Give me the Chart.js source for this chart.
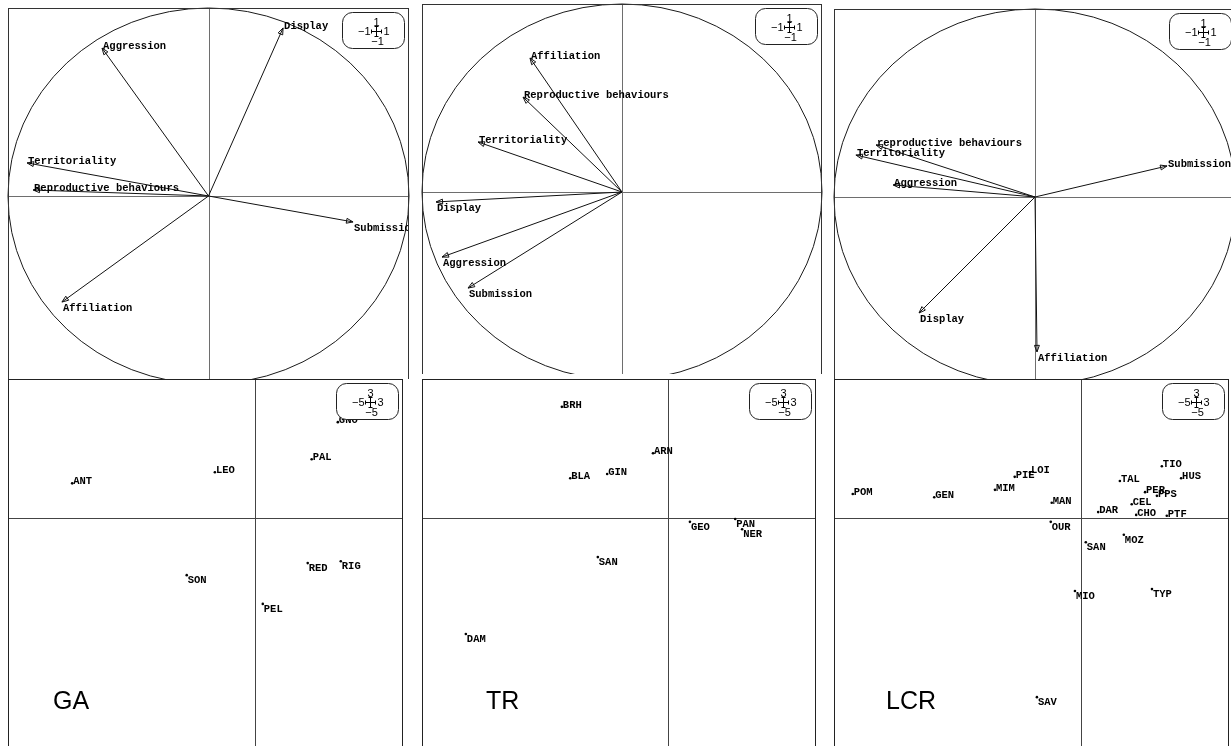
<!DOCTYPE html>
<html>
<head>
<meta charset="utf-8">
<script src="https://cdn.jsdelivr.net/npm/chart.js@4/dist/chart.umd.min.js"></script>
<style>
  html, body { margin: 0; padding: 0; background: #fff; }
  body { position: relative; width: 1231px; height: 746px; overflow: hidden; }
</style>
</head>
<body>
<script>
// ---- Correlation circles: behaviour loadings on axes 1 and 2 ----
const gaBehaviours = ['Aggression', 'Display', 'Territoriality', 'Reproductive behaviours', 'Submission', 'Affiliation'];
const gaAxis1 = [-0.531, 0.372, -0.905, -0.875, 0.721, -0.731];
const gaAxis2 = [0.787, 0.894, 0.176, 0.032, -0.138, -0.564];

const trBehaviours = ['Affiliation', 'Reproductive behaviours', 'Territoriality', 'Display', 'Aggression', 'Submission'];
const trAxis1 = [-0.46, -0.495, -0.72, -0.93, -0.90, -0.77];
const trAxis2 = [0.713, 0.505, 0.266, -0.053, -0.346, -0.511];

const lcrBehaviours = ['reproductive behaviours', 'Territoriality', 'Aggression', 'Submission', 'Display', 'Affiliation'];
const lcrAxis1 = [-0.791, -0.891, -0.706, 0.657, -0.577, 0.01];
const lcrAxis2 = [0.277, 0.223, 0.064, 0.165, -0.617, -0.824];

// ---- Site scores on axes 1 and 2 ----
const gaSites = ['GNO', 'PAL', 'LEO', 'ANT', 'SON', 'RED', 'RIG', 'PEL'];
const gaX = [1.68, 1.15, -0.81, -3.70, -1.38, 1.07, 1.74, 0.16];
const gaY = [2.07, 1.27, 0.99, 0.75, -1.23, -0.97, -0.93, -1.85];

const trSites = ['BRH', 'ARN', 'BLA', 'GIN', 'GEO', 'PAN', 'NER', 'SAN', 'DAM'];
const trX = [-2.16, -0.31, -1.99, -1.24, 0.44, 1.36, 1.50, -1.43, -4.11];
const trY = [2.40, 1.40, 0.86, 0.95, -0.08, -0.02, -0.24, -0.84, -2.50];

const lcrSites = ['POM', 'GEN', 'MIM', 'PIE', 'LOI', 'MAN', 'OUR', 'DAR', 'TAL', 'TIO', 'HUS',
                  'PER', 'PPS', 'CEL', 'CHO', 'PTF', 'MOZ', 'SAN', 'MIO', 'TYP', 'SAV'];
const lcrX = [-4.62, -2.97, -1.74, -1.34, -1.03, -0.59, -0.61, 0.35, 0.79, 1.64, 2.03,
              1.30, 1.54, 1.03, 1.12, 1.74, 0.87, 0.10, -0.12, 1.44, -0.89];
const lcrY = [0.52, 0.45, 0.61, 0.89, 0.99, 0.33, -0.08, 0.13, 0.80, 1.12, 0.86,
              0.56, 0.48, 0.30, 0.07, 0.05, -0.36, -0.52, -1.57, -1.53, -3.86];

// ---- Axis limits (also printed in the small scale box) ----
const circleLimits = [-1, 1];
const siteLimits = [-5, 3];

const MONO = 'bold 10.5px "Liberation Mono", "DejaVu Sans Mono", monospace';
const SANS = '"Liberation Sans", Arial, sans-serif';

const fmt = v => String(v).replace('-', '\u2212');

const decor = {
  id: 'decor',
  beforeDraw(chart, args, o) {
    if (!o.background) return;
    const { ctx, width, height } = chart;
    ctx.save();
    ctx.fillStyle = '#fff';
    ctx.fillRect(0, 0, width, height);
    ctx.restore();
  },
  beforeDatasetsDraw(chart, args, o) {
    const { ctx, chartArea: a, scales: { x, y } } = chart;
    const px = Math.round(x.getPixelForValue(0)) + 0.5;
    const py = Math.round(y.getPixelForValue(0)) + 0.5;
    ctx.save();
    ctx.beginPath();
    ctx.rect(a.left - 1, a.top - 1, a.right - a.left + 2, a.bottom - a.top + 2);
    ctx.clip();
    ctx.lineWidth = 1;
    ctx.strokeStyle = o.axisColor;
    ctx.beginPath();
    ctx.moveTo(a.left, py); ctx.lineTo(a.right, py);
    ctx.moveTo(px, a.top); ctx.lineTo(px, a.bottom);
    ctx.stroke();
    if (o.circle) {
      const cx = x.getPixelForValue(0), cy = y.getPixelForValue(0);
      const rx = x.getPixelForValue(1) - cx, ry = cy - y.getPixelForValue(1);
      ctx.strokeStyle = '#1a1a1a';
      ctx.beginPath();
      ctx.ellipse(cx, cy, rx, ry, 0, 0, Math.PI * 2);
      ctx.stroke();
    }
    ctx.restore();
  },
  afterDatasetsDraw(chart, args, o) {
    const { ctx, chartArea: a, scales: { x, y } } = chart;
    ctx.save();
    ctx.beginPath();
    ctx.rect(a.left, a.top - 1, a.right - a.left, a.bottom - a.top + 2);
    ctx.clip();
    ctx.fillStyle = '#000';
    ctx.strokeStyle = '#111';
    ctx.lineWidth = 1;
    ctx.font = MONO;
    ctx.textAlign = 'left';
    ctx.textBaseline = 'alphabetic';

    if (o.arrows) {
      chart.data.datasets.forEach((ds, i) => {
        const pts = chart.getDatasetMeta(i).data;
        const p0 = pts[0], p1 = pts[1];
        const ang = Math.atan2(p1.y - p0.y, p1.x - p0.x);
        const L = 7, phi = 0.36;
        ctx.beginPath();
        ctx.moveTo(p1.x, p1.y);
        ctx.lineTo(p1.x - L * Math.cos(ang - phi), p1.y - L * Math.sin(ang - phi));
        ctx.lineTo(p1.x - L * Math.cos(ang + phi), p1.y - L * Math.sin(ang + phi));
        ctx.closePath();
        ctx.stroke();
        const up = ds.data[1].y >= 0;
        ctx.fillText(ds.label, p1.x + 1, up ? p1.y + 1 : p1.y + 9);
      });
    } else {
      const ds = chart.data.datasets[0];
      const pts = chart.getDatasetMeta(0).data;
      ds.names.forEach((name, j) => {
        const el = pts[j];
        const up = ds.data[j].y >= 0;
        ctx.fillText(name, el.x + 1, up ? el.y + 1 : el.y + 8);
      });
    }

    // scale box: x and y limits around a small cross
    const bw = 62, bh = 36;
    const bx = Math.round(a.right - 5 - bw) + 0.5, by = Math.round(a.top + 4) + 0.5;
    ctx.fillStyle = '#fff';
    ctx.strokeStyle = '#222';
    ctx.beginPath();
    ctx.roundRect(bx, by, bw, bh, 10);
    ctx.fill();
    ctx.stroke();
    const cx = Math.round(bx + bw / 2 + 2) + 0.5, cy = Math.round(by + bh / 2) + 0.5;
    ctx.strokeStyle = '#000';
    ctx.beginPath();
    ctx.moveTo(cx - 5, cy); ctx.lineTo(cx + 5, cy);
    ctx.moveTo(cx - 5, cy - 2); ctx.lineTo(cx - 5, cy + 2);
    ctx.moveTo(cx + 5, cy - 2); ctx.lineTo(cx + 5, cy + 2);
    ctx.moveTo(cx, cy - 5); ctx.lineTo(cx, cy + 5);
    ctx.moveTo(cx - 2, cy - 5); ctx.lineTo(cx + 2, cy - 5);
    ctx.moveTo(cx - 2, cy + 5); ctx.lineTo(cx + 2, cy + 5);
    ctx.stroke();
    ctx.fillStyle = '#000';
    ctx.font = '11px ' + SANS;
    ctx.textAlign = 'center';
    ctx.textBaseline = 'alphabetic';
    ctx.fillText(fmt(y.max), cx, cy - 6);
    ctx.textBaseline = 'top';
    ctx.fillText(fmt(y.min), cx + 1, cy + 5);
    ctx.textBaseline = 'middle';
    ctx.textAlign = 'right';
    ctx.fillText(fmt(x.min), cx - 6, cy + 0.5);
    ctx.textAlign = 'left';
    ctx.fillText(fmt(x.max), cx + 7, cy + 0.5);

    if (o.title) {
      ctx.font = '25px ' + SANS;
      ctx.textAlign = 'left';
      ctx.textBaseline = 'alphabetic';
      ctx.fillText(o.title, a.left + o.titleDx, a.top + o.titleDy);
    }
    ctx.restore();

    // frame
    ctx.save();
    ctx.strokeStyle = o.frameColor;
    ctx.lineWidth = 1;
    ctx.strokeRect(a.left + 0.5, a.top + 0.5, a.right - a.left - 1, a.bottom - a.top - 1);
    ctx.restore();
  }
};

function arrowDatasets(names, ax1, ax2) {
  return names.map((name, i) => ({
    label: name,
    data: [{ x: 0, y: 0 }, { x: ax1[i], y: ax2[i] }],
    showLine: true,
    borderColor: '#111',
    borderWidth: 1,
    pointRadius: 0
  }));
}

function siteDatasets(names, xs, ys) {
  return [{
    label: 'sites',
    names: names,
    data: names.map((n, i) => ({ x: xs[i], y: ys[i] })),
    showLine: false,
    pointRadius: 1.3,
    pointBorderWidth: 0,
    pointBackgroundColor: '#000'
  }];
}

// area: plotting region [left, top, right, bottom]; clip: visible window
function panel(area, clip, datasets, limits, deco) {
  const outer = document.createElement('div');
  Object.assign(outer.style, {
    position: 'absolute',
    left: clip[0] + 'px', top: clip[1] + 'px',
    width: (clip[2] - clip[0]) + 'px', height: (clip[3] - clip[1]) + 'px',
    overflow: 'hidden'
  });
  const w = area[2] - area[0] + 2, h = area[3] - area[1] + 2;
  const canvas = document.createElement('canvas');
  canvas.width = w; canvas.height = h;
  Object.assign(canvas.style, {
    position: 'absolute',
    left: (area[0] - 1 - clip[0]) + 'px', top: (area[1] - 1 - clip[1]) + 'px',
    width: w + 'px', height: h + 'px'
  });
  outer.appendChild(canvas);
  document.body.appendChild(outer);
  new Chart(canvas, {
    type: 'scatter',
    data: { datasets },
    options: {
      responsive: false,
      animation: false,
      events: [],
      devicePixelRatio: 1,
      layout: { padding: 1, autoPadding: false },
      scales: {
        x: { type: 'linear', min: limits[0], max: limits[1], display: false },
        y: { type: 'linear', min: limits[0], max: limits[1], display: false }
      },
      plugins: { legend: { display: false }, tooltip: { enabled: false }, decor: deco }
    },
    plugins: [decor]
  });
}

const upperDeco = { circle: true, arrows: true, axisColor: '#6e6e6e', frameColor: '#333' };

panel([8, 8, 409, 384], [7, 7, 410, 379], arrowDatasets(gaBehaviours, gaAxis1, gaAxis2), circleLimits, upperDeco);
panel([422, 4, 822, 380], [421, 3, 823, 374], arrowDatasets(trBehaviours, trAxis1, trAxis2), circleLimits, upperDeco);
panel([834, 9, 1236, 385], [833, 8, 1231, 379], arrowDatasets(lcrBehaviours, lcrAxis1, lcrAxis2), circleLimits, upperDeco);

const lowerDeco = (title, dx) => ({ background: true, axisColor: '#444', frameColor: '#222', title, titleDx: dx, titleDy: 330 });

panel([8, 379, 403, 750], [7, 379, 404, 746], siteDatasets(gaSites, gaX, gaY), siteLimits, lowerDeco('GA', 45));
panel([422, 379, 816, 750], [421, 379, 817, 746], siteDatasets(trSites, trX, trY), siteLimits, lowerDeco('TR', 64));
panel([834, 379, 1229, 750], [833, 379, 1231, 746], siteDatasets(lcrSites, lcrX, lcrY), siteLimits, lowerDeco('LCR', 52));
</script>
</body>
</html>
